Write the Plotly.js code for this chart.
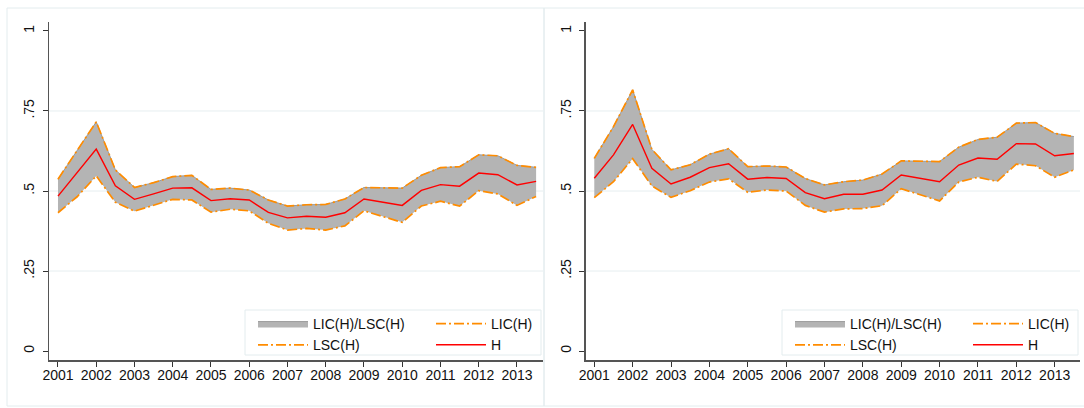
<!DOCTYPE html>
<html>
<head>
<meta charset="utf-8">
<script src="https://cdn.plot.ly/plotly-3.0.1.min.js"></script>
<style>html,body{margin:0;padding:0;background:#fff;}#chart{width:1084px;height:408px;}</style>
</head>
<body>
<div id="chart"></div>
<script>
// Half-yearly observation points
const periods = [2001, 2001.5, 2002, 2002.5, 2003, 2003.5, 2004, 2004.5, 2005, 2005.5, 2006, 2006.5, 2007,
                 2007.5, 2008, 2008.5, 2009, 2009.5, 2010, 2010.5, 2011, 2011.5, 2012, 2012.5, 2013, 2013.5];

// Left panel
const leftLSC = [0.537, 0.628, 0.716, 0.566, 0.511, 0.526, 0.545, 0.549, 0.505, 0.509, 0.503, 0.472, 0.453,
                 0.457, 0.458, 0.475, 0.511, 0.510, 0.509, 0.549, 0.573, 0.576, 0.613, 0.610, 0.580, 0.574];
const leftH   = [0.484, 0.556, 0.631, 0.516, 0.474, 0.491, 0.509, 0.510, 0.470, 0.476, 0.472, 0.433, 0.416,
                 0.421, 0.418, 0.432, 0.475, 0.465, 0.455, 0.502, 0.520, 0.515, 0.556, 0.551, 0.519, 0.530];
const leftLIC = [0.432, 0.482, 0.547, 0.465, 0.437, 0.455, 0.474, 0.472, 0.434, 0.443, 0.438, 0.399, 0.378,
                 0.383, 0.378, 0.391, 0.438, 0.420, 0.402, 0.453, 0.468, 0.453, 0.501, 0.491, 0.455, 0.483];

// Right panel
const rightLSC = [0.602, 0.701, 0.816, 0.630, 0.566, 0.582, 0.615, 0.632, 0.576, 0.578, 0.575, 0.539, 0.519,
                  0.529, 0.534, 0.553, 0.594, 0.592, 0.592, 0.637, 0.661, 0.668, 0.712, 0.714, 0.680, 0.670];
const rightH   = [0.540, 0.613, 0.708, 0.571, 0.522, 0.543, 0.573, 0.585, 0.537, 0.542, 0.539, 0.495, 0.476,
                  0.490, 0.490, 0.503, 0.550, 0.540, 0.529, 0.581, 0.603, 0.599, 0.648, 0.647, 0.610, 0.617];
const rightLIC = [0.479, 0.529, 0.601, 0.516, 0.480, 0.501, 0.528, 0.538, 0.496, 0.503, 0.500, 0.455, 0.434,
                  0.444, 0.445, 0.454, 0.507, 0.488, 0.469, 0.528, 0.543, 0.530, 0.584, 0.579, 0.543, 0.566];

// Axis ticks
const xTickVals = [2001, 2002, 2003, 2004, 2005, 2006, 2007, 2008, 2009, 2010, 2011, 2012, 2013];
const xTickText = ['2001', '2002', '2003', '2004', '2005', '2006', '2007', '2008', '2009', '2010', '2011', '2012', '2013'];
const yTickVals = [0, 0.25, 0.5, 0.75, 1];
const yTickText = ['0', '.25', '.5', '.75', '1'];
const gridVals = [0.25, 0.5, 0.75];

const names = {band: 'LIC(H)/LSC(H)', lic: 'LIC(H)', lsc: 'LSC(H)', h: 'H'};

const W = 1084, H = 408;
const px = v => v / W;
const py = v => 1 - v / H;

const ORANGE = '#ff8c00';
const DASH = '10px,3px,2px,3px';
const FONT = '"Liberation Sans", Arial, sans-serif';

function panel(xa, ya, lsc, h, lic, legA, legB) {
  return [
    {x: periods, y: lic, xaxis: xa, yaxis: ya, mode: 'lines', line: {color: 'rgba(0,0,0,0)', width: 0},
     showlegend: false, hoverinfo: 'skip'},
    {x: periods, y: lsc, xaxis: xa, yaxis: ya, mode: 'lines', fill: 'tonexty', fillcolor: '#b4b4b4',
     line: {color: '#9a9a9a', width: 1}, name: names.band, legend: legA},
    {x: periods, y: lic, xaxis: xa, yaxis: ya, mode: 'lines', line: {color: ORANGE, width: 1.7, dash: DASH},
     name: names.lic, legend: legB},
    {x: periods, y: lsc, xaxis: xa, yaxis: ya, mode: 'lines', line: {color: ORANGE, width: 1.7, dash: DASH},
     name: names.lsc, legend: legA},
    {x: periods, y: h, xaxis: xa, yaxis: ya, mode: 'lines', line: {color: '#ff0000', width: 1.4},
     name: names.h, legend: legB}
  ];
}

const data = [].concat(
  panel('x', 'y', leftLSC, leftH, leftLIC, 'legend', 'legend2'),
  panel('x2', 'y2', rightLSC, rightH, rightLIC, 'legend3', 'legend4')
);

function xAxis(domain, range, anchor) {
  return {domain: domain, range: range, anchor: anchor, tickmode: 'array', tickvals: xTickVals, ticktext: xTickText,
          showgrid: false, zeroline: false, showline: true, linecolor: '#555', linewidth: 1.5,
          ticks: 'outside', ticklen: 5, tickwidth: 1, tickcolor: '#333', ticklabelstandoff: -3,
          tickfont: {family: FONT, size: 14, color: '#111'}, fixedrange: true};
}
function yAxis(domain, anchor) {
  return {domain: domain, range: [-0.028, 1.028], anchor: anchor, tickmode: 'array', tickvals: yTickVals, ticktext: yTickText,
          showgrid: false, zeroline: false, showline: true, linecolor: '#555', linewidth: 1.5,
          ticks: 'outside', ticklen: 5, tickwidth: 1, tickcolor: '#333', tickangle: -90, ticklabelstandoff: 3,
          tickfont: {family: FONT, size: 14, color: '#111'}, fixedrange: true};
}

function legend(xPix, yPix) {
  return {x: px(xPix), y: py(yPix), xanchor: 'left', yanchor: 'top', orientation: 'v', traceorder: 'normal',
          bgcolor: 'rgba(0,0,0,0)', borderwidth: 0, itemwidth: 50, tracegroupgap: 0,
          font: {family: FONT, size: 14, color: '#111'}, itemclick: false, itemdoubleclick: false};
}

const shapes = [];
// panel frames
shapes.push({type: 'rect', xref: 'paper', yref: 'paper', x0: px(7), x1: px(544), y0: py(406), y1: py(8),
             line: {color: '#e3ecee', width: 1}, layer: 'below'});
shapes.push({type: 'rect', xref: 'paper', yref: 'paper', x0: px(544), x1: px(1090), y0: py(406), y1: py(8),
             line: {color: '#e3ecee', width: 1}, layer: 'below'});
// legend frames
shapes.push({type: 'rect', xref: 'paper', yref: 'paper', x0: px(245), x1: px(541), y0: py(355), y1: py(310),
             line: {color: '#e3ecee', width: 1}, fillcolor: '#ffffff', layer: 'above'});
shapes.push({type: 'rect', xref: 'paper', yref: 'paper', x0: px(782), x1: px(1078), y0: py(355), y1: py(310),
             line: {color: '#e3ecee', width: 1}, fillcolor: '#ffffff', layer: 'above'});
// grid lines
[['x', 'y'], ['x2', 'y2']].forEach(([xa, ya]) => {
  gridVals.forEach(v => {
    shapes.push({type: 'line', xref: xa + ' domain', yref: ya, x0: 0, x1: 1, y0: v, y1: v,
                 line: {color: '#e6eef0', width: 1}, layer: 'below'});
  });
});

const layout = {
  width: W, height: H, margin: {l: 0, r: 0, t: 0, b: 0},
  paper_bgcolor: '#ffffff', plot_bgcolor: '#ffffff',
  font: {family: FONT, size: 14, color: '#111'},
  showlegend: true,
  xaxis: xAxis([px(49), px(543)], [2000.765, 2013.68], 'y'),
  yaxis: yAxis([1 - 360 / H, 1 - 22 / H], 'x'),
  xaxis2: xAxis([px(585.7), px(1080)], [2000.776, 2013.66], 'y2'),
  yaxis2: yAxis([1 - 360 / H, 1 - 22 / H], 'x2'),
  legend: legend(253, 308),
  legend2: legend(431, 308),
  legend3: legend(790, 308),
  legend4: legend(968, 308),
  shapes: shapes
};

Plotly.newPlot('chart', data, layout, {displayModeBar: false, staticPlot: true});
</script>
</body>
</html>
